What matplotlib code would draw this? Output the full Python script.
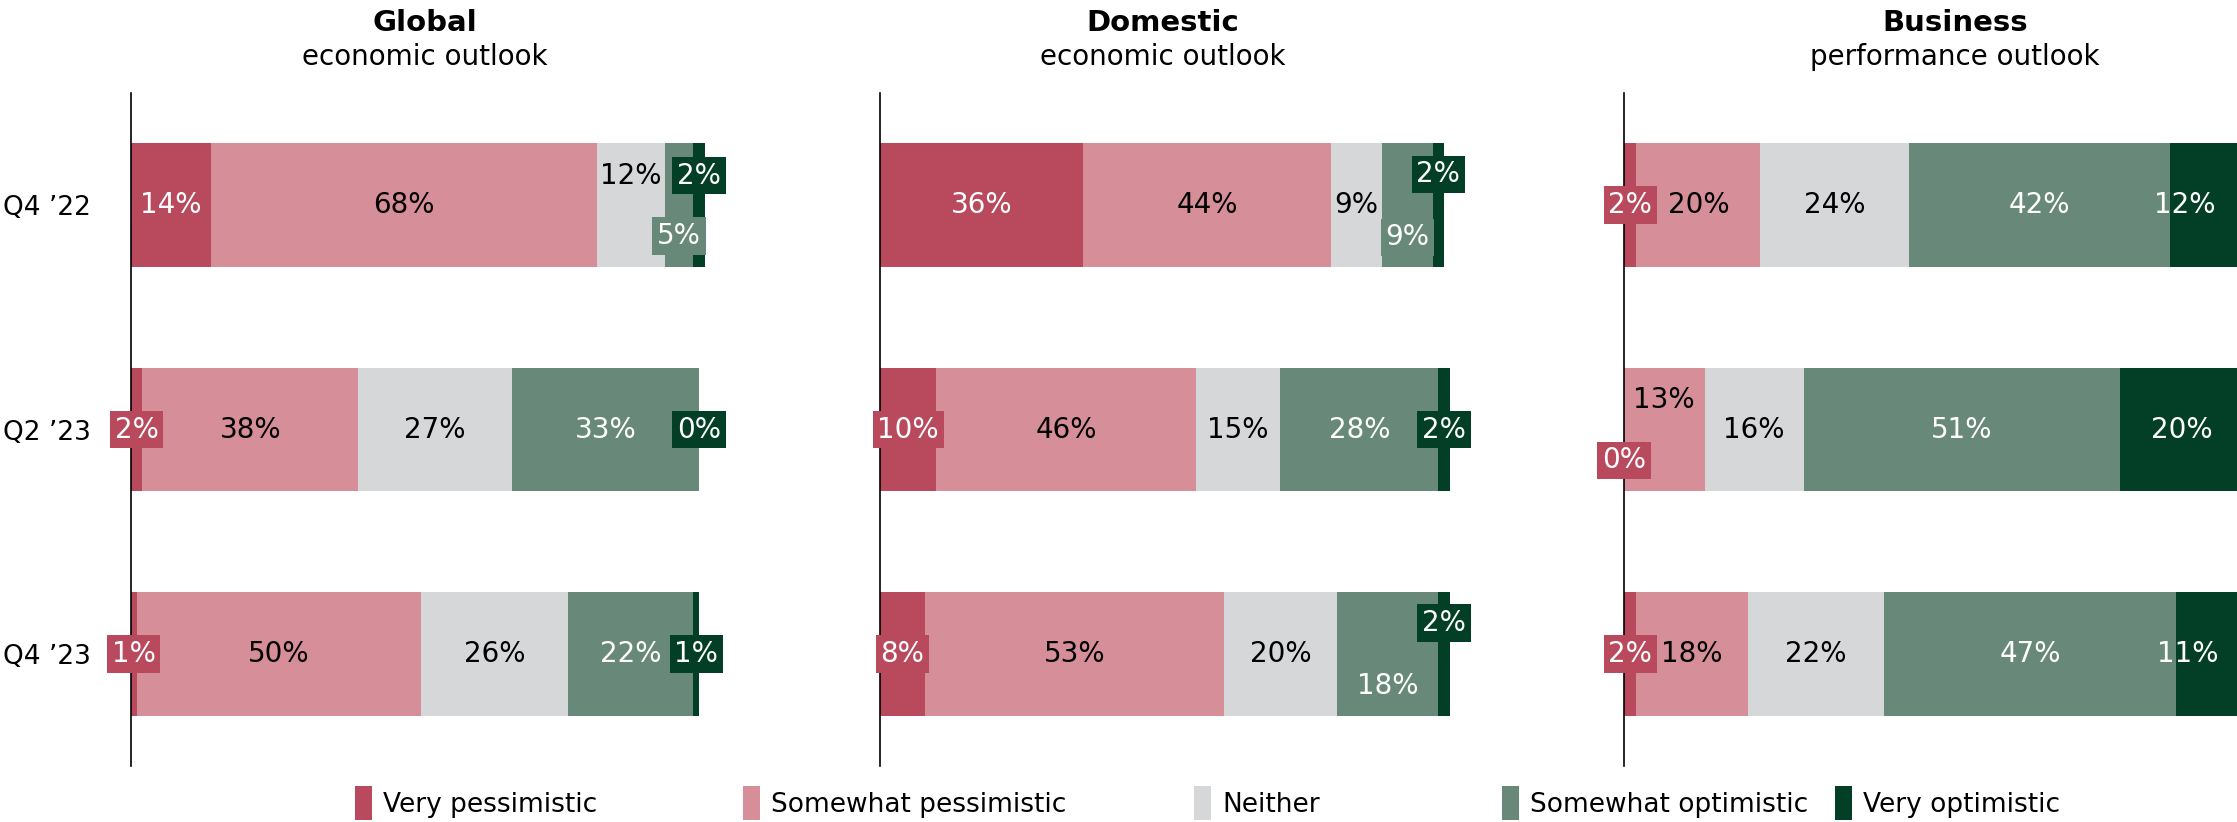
import matplotlib
matplotlib.use('Agg')
import matplotlib.pyplot as plt
from matplotlib.patches import Rectangle

# survey results, share of respondents (%)
periods = ["Q4 ’22", "Q2 ’23", "Q4 ’23"]
responses = ["Very pessimistic", "Somewhat pessimistic", "Neither",
             "Somewhat optimistic", "Very optimistic"]
titles_bold = ["Global", "Domestic", "Business"]
titles_sub = ["economic outlook", "economic outlook", "performance outlook"]

global_vals = [[14, 68, 12, 5, 2],
               [2, 38, 27, 33, 0],
               [1, 50, 26, 22, 1]]
domestic_vals = [[36, 44, 9, 9, 2],
                 [10, 46, 15, 28, 2],
                 [8, 53, 20, 18, 2]]
business_vals = [[2, 20, 24, 42, 12],
                 [0, 13, 16, 51, 20],
                 [2, 18, 22, 47, 11]]

colors = ['#B94A5E', '#D68E99', '#D6D7D9', '#68897A', '#033F27']
text_colors = ['white', 'black', 'black', 'white', 'white']

# (row, segment) -> (x shift in %, y shift as fraction of bar height, boxed label)
label_tweaks = [
    {(0, 2): (0, -0.24, False), (0, 3): (0, 0.25, True), (0, 4): (0, -0.24, True),
     (1, 0): (0, 0, True), (1, 4): (0, 0, True), (2, 0): (0, 0, True),
     (2, 4): (0, 0, True)},
    {(0, 3): (0, 0.26, True), (0, 4): (0, -0.25, True), (1, 0): (0, 0, True),
     (1, 4): (0, 0, True), (2, 0): (0, 0, True), (2, 3): (0, 0.26, False),
     (2, 4): (0, -0.25, True)},
    {(0, 0): (0, 0, True), (1, 0): (0, 0.25, True), (1, 1): (0, -0.24, False),
     (2, 0): (0, 0, True), (0, 4): (-3.5, 0, False), (2, 4): (-3.5, 0, False)},
]

plt.rcParams['font.family'] = 'DejaVu Sans'
plt.rcParams['font.size'] = 19

W, H = 2237, 822
fig = plt.figure(figsize=(W / 100, H / 100), dpi=100)

# axes left edge / width in pixels
panel_left = [131, 880, 1624]
panel_width = [568, 564, 620]
title_x = [425, 1163, 1955]
bottom, top = 766, 93
bar_h = 0.55

for p, vals in enumerate([global_vals, domestic_vals, business_vals]):
    ax = fig.add_axes([panel_left[p] / W, 1 - bottom / H,
                       panel_width[p] / W, (bottom - top) / H])
    for r, row in enumerate(vals):
        left = 0
        for s, v in enumerate(row):
            ax.barh(r, v, left=left, height=bar_h, color=colors[s],
                    linewidth=0, clip_on=False)
            dx, dy, boxed = label_tweaks[p].get((r, s), (0, 0, False))
            kw = {}
            if boxed:
                kw['bbox'] = dict(boxstyle='square,pad=0.17', fc=colors[s], ec='none')
            ax.text(left + v / 2 + dx, r + dy * bar_h, f'{v}%', ha='center',
                    va='center', color=text_colors[s], fontsize=20,
                    clip_on=False, zorder=5, **kw)
            left += v

    ax.set_xlim(0, 100)
    ax.set_ylim(2.5, -0.5)
    ax.set_xticks([])
    ax.set_yticks(range(len(periods)))
    if p == 0:
        ax.set_yticklabels(periods)
    else:
        ax.set_yticklabels([])
    ax.tick_params(axis='y', length=0, pad=29)
    for side in ['top', 'right', 'bottom']:
        ax.spines[side].set_visible(False)
    ax.spines['left'].set_linewidth(1.2)
    ax.patch.set_visible(False)

    fig.text(title_x[p] / W, 1 - 23 / H, titles_bold[p], ha='center',
             va='center', fontweight='bold', fontsize=21)
    fig.text(title_x[p] / W, 1 - 57 / H, titles_sub[p], ha='center',
             va='center', fontsize=20)

# legend along the bottom
legend_x = [355, 743, 1194, 1502, 1835]
for i, name in enumerate(responses):
    fig.add_artist(Rectangle((legend_x[i] / W, 2 / H), 17 / W, 34 / H,
                             transform=fig.transFigure, color=colors[i], lw=0))
    fig.text((legend_x[i] + 28) / W, 1 - 805 / H, name, va='center')

fig.savefig('out.png', dpi=100)
